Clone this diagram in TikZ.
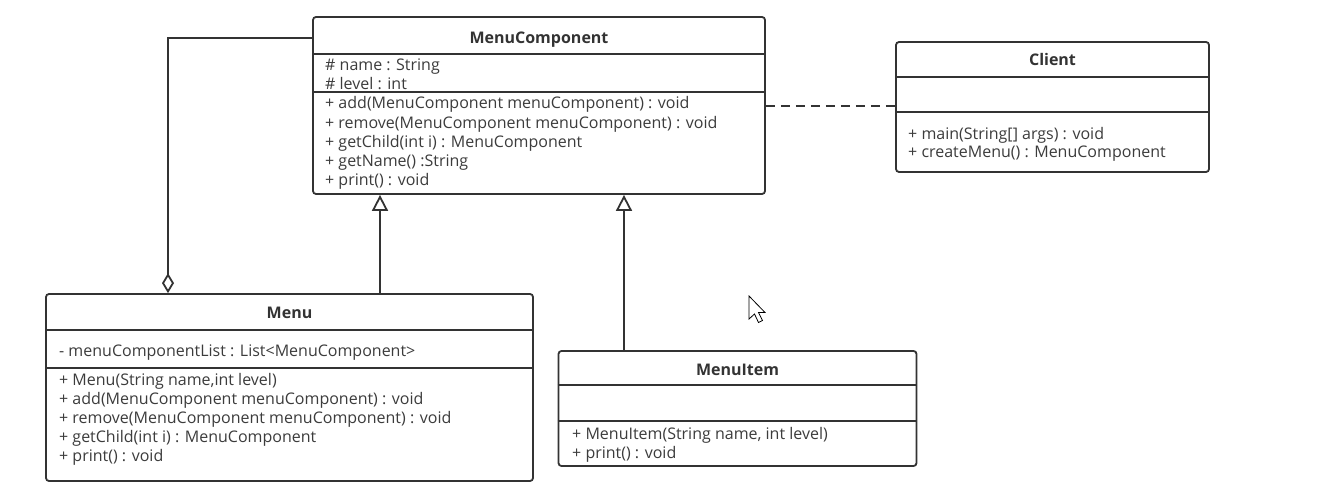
\documentclass[tikz,border=0pt]{standalone}
\usepackage{fontspec}
\setmainfont{Open Sans}
\usetikzlibrary{arrows.meta}
\definecolor{linec}{HTML}{333333}
\definecolor{textc}{HTML}{3C3C3C}
\begin{document}
\begin{tikzpicture}[x=1pt,y=-1pt,
  classbox/.style={draw=linec, line width=1.8pt, rounded corners=3pt, fill=white, inner sep=0pt},
  divider/.style={draw=linec, line width=1.8pt},
  ctitle/.style={font=\bfseries\fontsize{16}{18}\selectfont, text=linec, inner sep=0pt, anchor=base},
  member/.style={anchor=base west, font=\fontsize{16}{18}\selectfont, text=textc, inner sep=0pt},
  link/.style={draw=linec, line width=1.8pt},
  inherit/.style={link, -{Triangle[open, width=16pt, length=16pt]}},
  aggreg/.style={link, {Diamond[open, width=12pt, length=20pt]}-},
  usage/.style={link, dash pattern=on 9pt off 6pt}]
\useasboundingbox (0,0) rectangle (1339,486);

% MenuComponent
\node[classbox, minimum width=452pt, minimum height=177pt] (mc) at (539,105.5) {};
\draw[divider] (mc.west |- 0,54) -- (mc.east |- 0,54);
\draw[divider] (mc.west |- 0,92) -- (mc.east |- 0,92);
\node[ctitle] (mct) at (539,44) {MenuComponent};
\node[member] (mc1) at (325,71) {\# name : String};
\node[member] (mc2) at (325,90) {\# level : int};
\node[member] (mc3) at (325,109) {+ add(MenuComponent menuComponent) : void};
\node[member] (mc4) at (325,129) {+ remove(MenuComponent menuComponent) : void};
\node[member] (mc5) at (325,148) {+ getChild(int i) : MenuComponent};
\node[member] (mc6) at (325,167) {+ getName() :String};
\node[member] (mc7) at (325,186) {+ print() : void};

% Client
\node[classbox, minimum width=313pt, minimum height=130pt] (cl) at (1052.5,107) {};
\draw[divider] (cl.west |- 0,77) -- (cl.east |- 0,77);
\draw[divider] (cl.west |- 0,112) -- (cl.east |- 0,112);
\node[ctitle] (clt) at (1052.5,66) {Client};
\node[member] (cl1) at (908,140) {+ main(String[] args) : void};
\node[member] (cl2) at (908,158) {+ createMenu() : MenuComponent};

% Menu
\node[classbox, minimum width=487pt, minimum height=187pt] (menu) at (289.5,387.5) {};
\draw[divider] (menu.west |- 0,330) -- (menu.east |- 0,330);
\draw[divider] (menu.west |- 0,368) -- (menu.east |- 0,368);
\node[ctitle] (menut) at (289.5,319) {Menu};
\node[member] (m1) at (59,356) {- menuComponentList : List<MenuComponent>};
\node[member] (m2) at (59,385) {+ Menu(String name,int level)};
\node[member] (m3) at (59,404) {+ add(MenuComponent menuComponent) : void};
\node[member] (m4) at (59,423) {+ remove(MenuComponent menuComponent) : void};
\node[member] (m5) at (59,442) {+ getChild(int i) : MenuComponent};
\node[member] (m6) at (59,461) {+ print() : void};

% MenuItem
\node[classbox, minimum width=358pt, minimum height=115pt] (mi) at (737.5,408.5) {};
\draw[divider] (mi.west |- 0,385) -- (mi.east |- 0,385);
\draw[divider] (mi.west |- 0,421) -- (mi.east |- 0,421);
\node[ctitle] (mit) at (737.5,375) {MenuItem};
\node[member] (mi1) at (572,439) {+ MenuItem(String name, int level)};
\node[member] (mi2) at (572,458) {+ print() : void};

% Relations
\coordinate (ag) at (168,38);
\coordinate (g1) at (380,0);
\coordinate (g2) at (624,0);
\coordinate (us) at (0,106);
\draw[aggreg] (menu.north -| ag) -- (ag) -- (ag -| mc.west);
\draw[inherit] (g1 |- menu.north) -- (g1 |- mc.south);
\draw[inherit] (g2 |- mi.north) -- (g2 |- mc.south);
\draw[usage] (mc.east |- us) -- (cl.west |- us);

% mouse pointer
\draw[black, line width=0.8pt, fill=white, line join=miter]
  (749,296) -- (749,319) -- (754.5,314) -- (758.5,322.5) -- (762.5,320.5) -- (758.5,312.5) -- (765,312.5) -- cycle;
\end{tikzpicture}
\end{document}
